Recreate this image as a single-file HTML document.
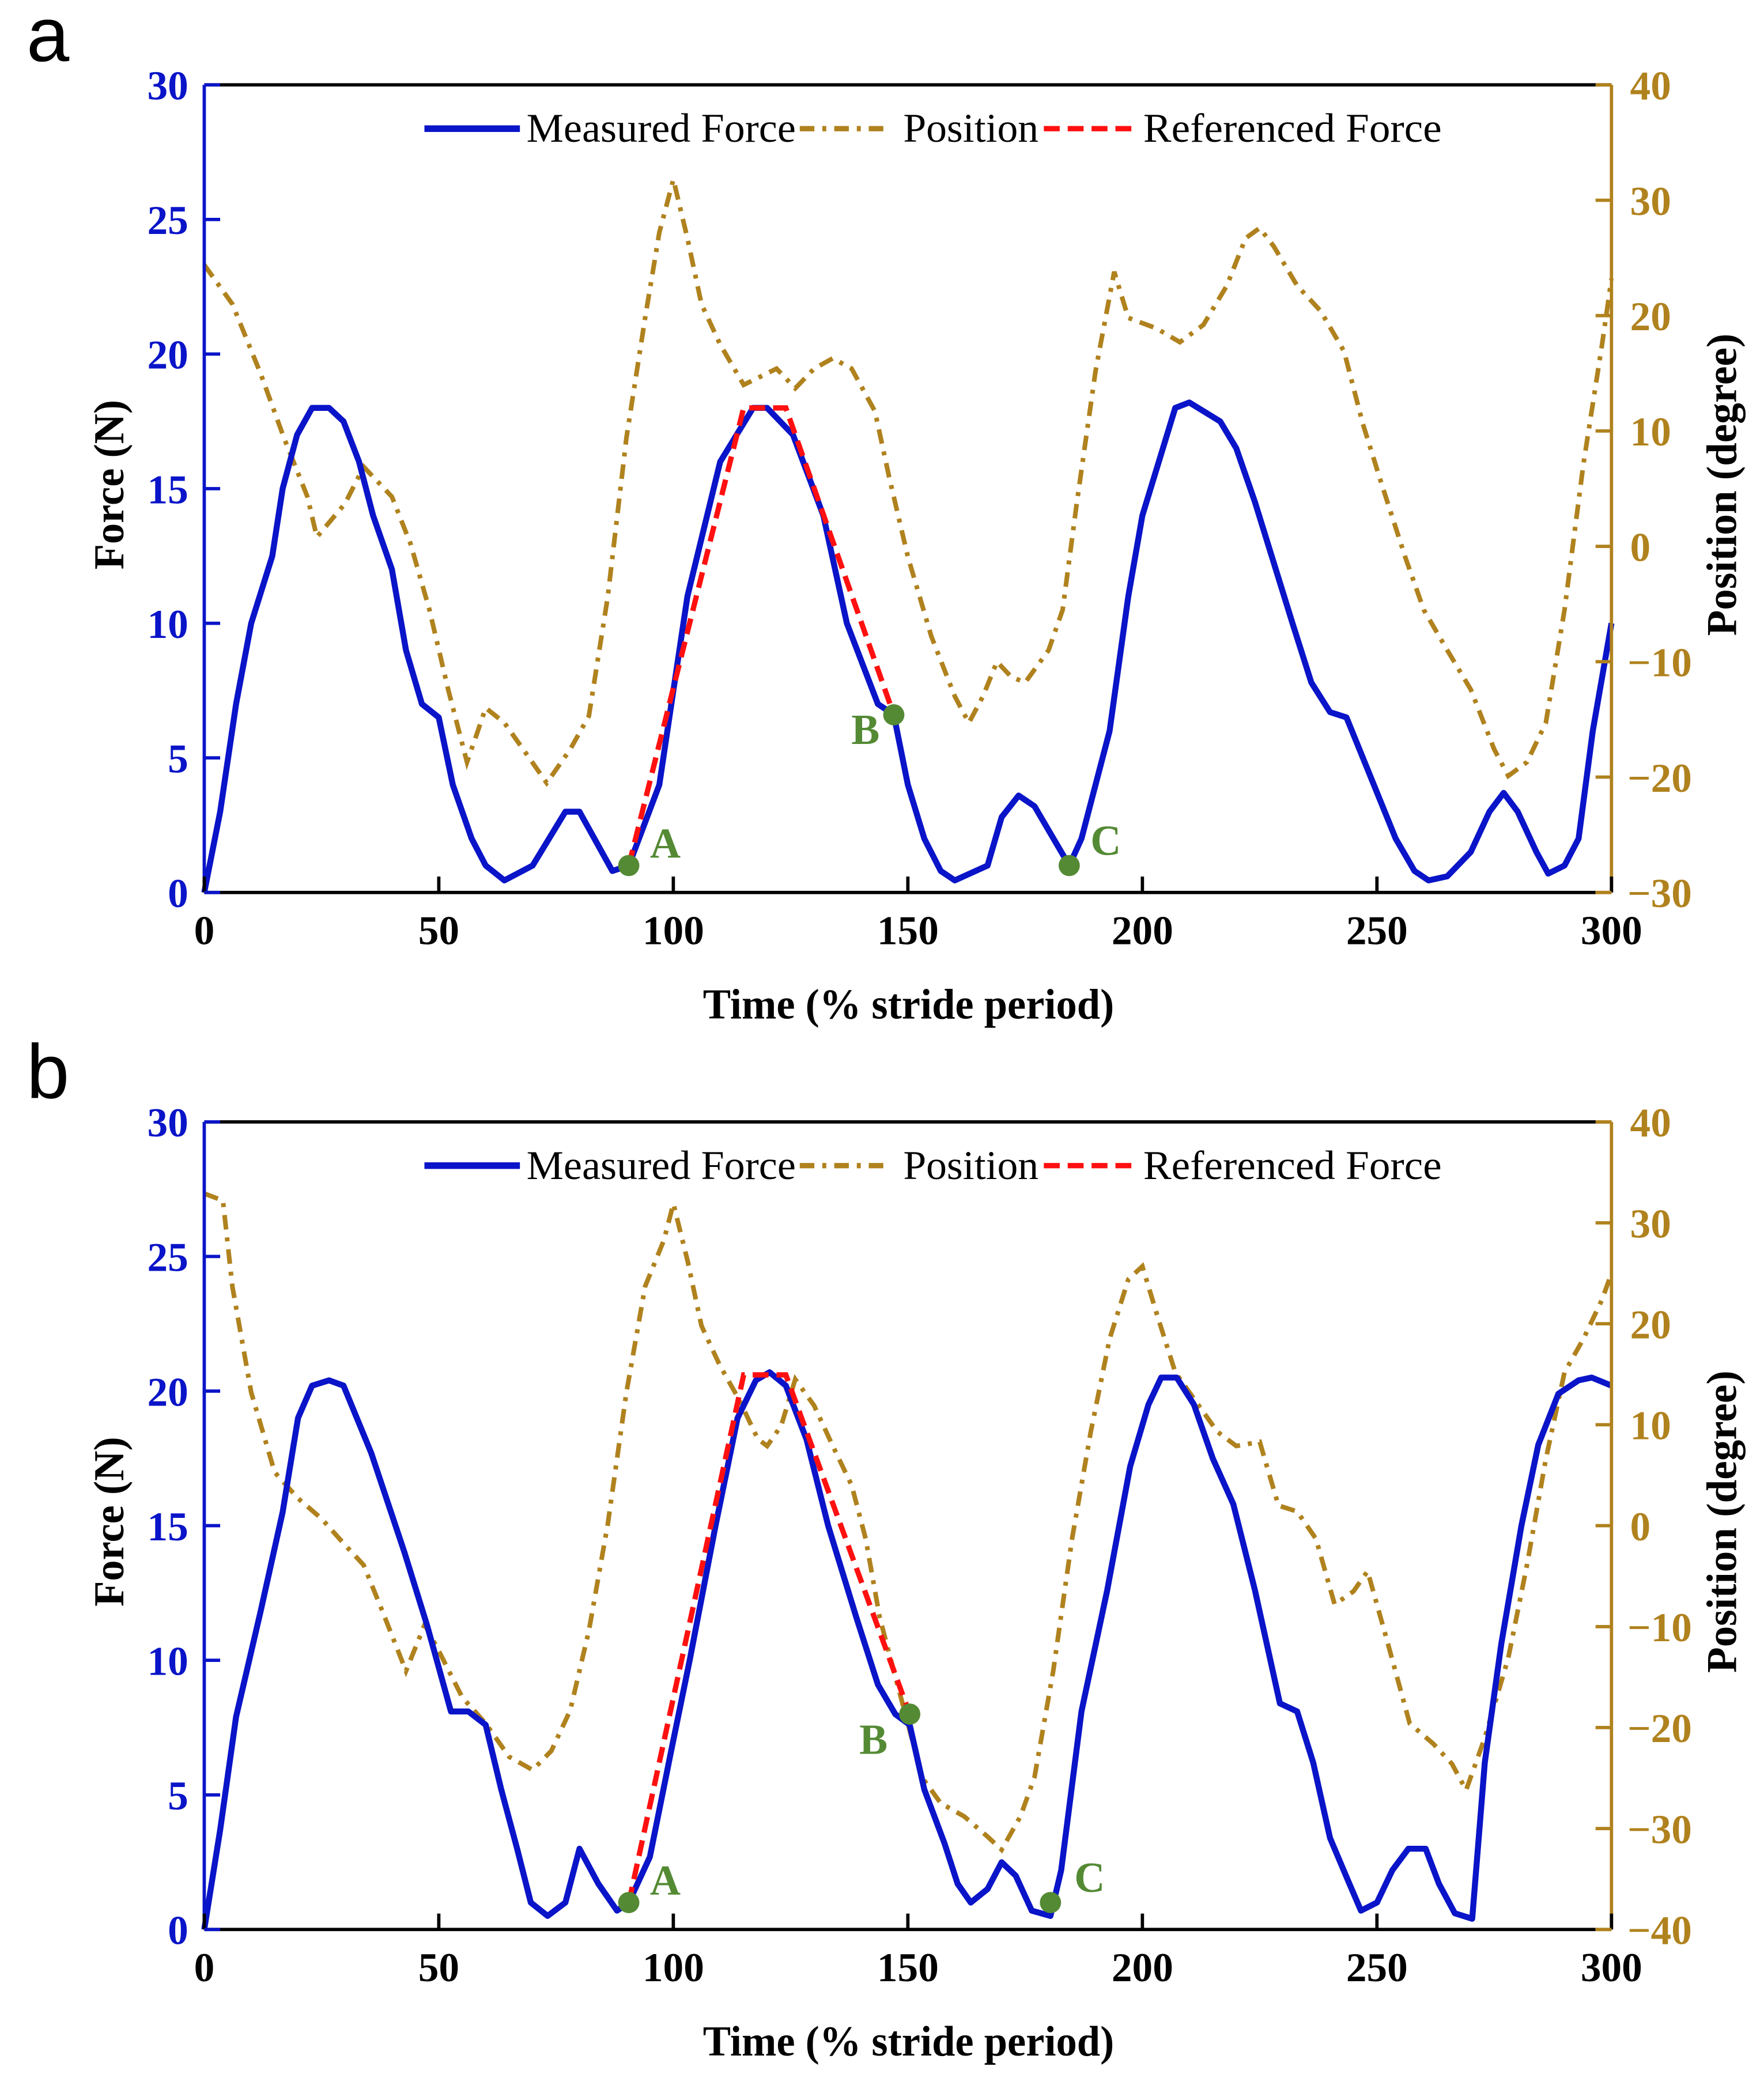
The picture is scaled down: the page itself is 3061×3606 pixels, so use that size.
<!DOCTYPE html>
<html><head><meta charset="utf-8">
<style>html,body{margin:0;padding:0;background:#fff;}svg{display:block;}</style>
</head><body>
<svg id="fig" width="3061" height="3606" viewBox="0 0 1330 1567" preserveAspectRatio="none" xmlns="http://www.w3.org/2000/svg"></svg>
<script>
// ---- Panel a data ----
const forceA_t = [0,3.4,6.8,10,14.5,16.7,19.8,23,26.6,29.7,33,36,40,43,46.4,50,53,57,60,64,70,77,80,87,90.5,97,103,110,117,120,125.5,132,137,143.6,147,150,153.5,157,160,167,170,173.6,177,184.4,187,193,197,200,207,210,216.6,220,224,232,236,240,243.5,247,254,258,261,265,270,274,277,280,284,286.5,290,293,296,300];
const forceA_v = [0,3,7,10,12.5,15,17,18,18,17.5,16,14,12,9,7,6.5,4,2,1,0.45,1,3,3,0.8,1,4,11,16,18,18,17,14,10,7,6.6,4,2,0.8,0.45,1,2.8,3.6,3.2,1,2,6,11,14,18,18.2,17.5,16.5,14.5,10,7.8,6.7,6.5,5,2,0.8,0.45,0.6,1.5,3,3.7,3,1.5,0.7,1,2,6,10];
const posA_t = [0,6,12,17,22,24,30,34,40,44,48,52,56,58,60,64,68,73,78,82,86,90,94,97,100,103,106,110,115,118,122,126,130,134,138,143,146,150,155,160,163,166,169,172,175,180,183,186,190,194,197,203,208,213,218,222,225,228,233,238,243,247,251,256,260,265,270,275,278,282,286,290,294,298,300];
const posA_v = [24.4,21,15,9.4,4.3,0.8,3.7,6.9,4.3,0.2,-5.5,-12.4,-18.7,-16.4,-14,-15.3,-17.6,-20.5,-17.6,-14.7,-4.4,9.4,19.8,27.2,31.8,26.7,21,17.5,14,14.6,15.4,13.7,15.4,16.3,15.4,11.7,6,-0.9,-7.8,-13,-15.3,-13,-10,-11.3,-11.8,-9,-5.5,3.7,15.2,23.8,19.8,18.9,17.7,19.2,22.6,26.7,27.6,26,22.6,20.4,16.9,10.6,5.4,-0.9,-5.5,-9,-12.4,-17.6,-19.9,-18.7,-15.3,-5.5,7.1,17.5,23.2];
const refA_t = [90.5,115,124,147];
const refA_v = [1,18,18,6.6];
const markA_t = [90.5,147,184.4];
const markA_v = [1,6.6,1];
// ---- Panel b data ----
const forceB_t = [0,3.4,6.8,12,16.7,20,23,26.6,29.7,35.6,42.7,47.5,52.6,56.3,60,63.3,66.7,69.6,73.2,77,80,84,88,90.5,95,99.5,103.5,109,113.7,117.6,120.5,124,128.4,133,139,143.6,147.3,150.4,153.5,157.8,160.6,163.4,167,170,173,176.4,180.4,182.7,187,192.5,197.4,201.3,204,207.3,211,215,219.4,224,229.3,233,236.4,240,243.4,246.6,250,253.3,256.7,260.4,263.2,266.6,270.3,273,276.5,280.8,284.4,288.7,293,295.8,300];
const forceB_v = [0,3.7,7.9,11.8,15.5,19,20.2,20.4,20.2,17.7,14,11.3,8.1,8.1,7.6,5.2,3,1,0.5,1,3,1.7,0.7,1,2.7,6.6,10,15,19,20.4,20.7,20.2,18.2,15,11.6,9.1,8,7.6,5.2,3.2,1.7,1,1.5,2.5,2,0.7,0.5,2.2,8.1,12.6,17.2,19.5,20.5,20.5,19.5,17.5,15.8,12.6,8.4,8.1,6.2,3.4,2,0.7,1,2.2,3,3,1.7,0.6,0.4,6.2,10.6,15,18,19.9,20.4,20.5,20.2];
const posB_t = [0,4,6,10,15,20,25,30,34,38,43,47,50,55,60,65,70,74,78,82,86,90,94,98,100,103,106,110,114,118,120,123,126,130,134,138,141,144,147,150,153,157,162,167,170,174,177,181,185,189,193,197,200,203,207,212,216,220,225,229,233,237,241,245,248,252,257,262,266,269,273,278,282,286,290,294,298,300];
const posB_v = [32.9,32.2,23.7,13.2,5.3,2.7,0.7,-1.9,-3.9,-8.5,-14.4,-9.8,-12.4,-17,-19.6,-22.9,-24.2,-22.3,-18.3,-10.4,0.1,13.2,23.7,28.3,31.9,26.3,19.8,15.8,12.5,8.6,7.9,9.9,14.5,11.9,7.9,4,-1.3,-9.1,-14.4,-19.6,-24.9,-27.5,-28.8,-30.8,-32.1,-28.8,-24.9,-14.4,-1.3,9.3,18.5,24.4,25.7,21.1,15.2,11.9,9.3,7.9,8.3,2,1.4,-1.3,-7.8,-6.5,-4.5,-11.1,-19.6,-21.6,-23.6,-26.2,-21,-13.1,-3.9,6.6,15.2,18.5,22.4,25];
const refB_t = [90.5,115,124,150.4];
const refB_v = [1,20.6,20.6,8];
const markB_t = [90.5,150.4,180.4];
const markB_v = [1,8,1];
// ---- ticks ----
const xTicks = [0,50,100,150,200,250,300];
const forceTicks = [0,5,10,15,20,25,30];
const posTicksA = [-30,-20,-10,0,10,20,30,40];
const posTicksB = [-40,-30,-20,-10,0,10,20,30,40];
const markLabels = ["A","B","C"];

const NS="http://www.w3.org/2000/svg";
const svg=document.getElementById('fig');
const BLUE="#0a14c8", BROWN="#b0821e", RED="#ff1010", GREEN="#548a34";
function mk(tag,attrs,parent){const e=document.createElementNS(NS,tag);for(const k in attrs)e.setAttribute(k,attrs[k]);(parent||svg).appendChild(e);return e;}
function txt(s,attrs,parent){const e=mk('text',attrs,parent);e.textContent=s;return e;}

function panel(cfg){
  const L=154,R=1215,T=cfg.top,B=cfg.top+609;
  const g=mk('g',{});
  
  
  const x=t=>L+(t/300)*(R-L);
  const yF=v=>B-(v/30)*(B-T);
  const yP=v=>B-((v-cfg.pmin)/(cfg.pmax-cfg.pmin))*(B-T);
  const pl=txt(cfg.letter,{x:20,y:cfg.top-18,'font-family':'Liberation Sans, sans-serif','font-size':58,fill:'#000'},g);
  
  
  const pts=(ts,vs,fy)=>ts.map((t,i)=>x(t).toFixed(1)+','+fy(vs[i]).toFixed(1)).join(' ');
  const pos=mk('polyline',{points:pts(cfg.pt,cfg.pv,yP),fill:'none',stroke:BROWN,'stroke-width':3.5,'stroke-dasharray':'11 6 3 6'},g);
  
  
  const fl=mk('polyline',{points:pts(cfg.ft,cfg.fv,yF),fill:'none',stroke:BLUE,'stroke-width':4.5,'stroke-linejoin':'round'},g);
  
  
  const rf=mk('polyline',{points:pts(cfg.rt,cfg.rv,yF),fill:'none',stroke:RED,'stroke-width':4,'stroke-dasharray':'12 6'},g);
  
  
  cfg.mt.forEach((t,i)=>{
    const c=mk('circle',{cx:x(t),cy:yF(cfg.mv[i]),r:8,fill:GREEN},g);
    
    
    const off=cfg.labOff[i];
    const lt=txt(markLabels[i],{x:x(t)+off[0],y:yF(cfg.mv[i])+off[1],'font-family':'Liberation Serif, serif','font-weight':'bold','font-size':32,fill:GREEN},g);
    
    
  });
  mk('line',{x1:L,y1:T,x2:R,y2:T,stroke:'#000','stroke-width':2.5},g);
  mk('line',{x1:L,y1:B,x2:R-12,y2:B,stroke:'#000','stroke-width':2.5},g);
  mk('line',{x1:R-12,y1:B,x2:R,y2:B,stroke:BROWN,'stroke-width':2.5},g);
  mk('line',{x1:L,y1:T,x2:L,y2:B,stroke:BLUE,'stroke-width':2.5},g);
  mk('line',{x1:R,y1:T,x2:R,y2:B,stroke:BROWN,'stroke-width':2.5},g);
  xTicks.forEach(t=>{
    mk('line',{x1:x(t),y1:B,x2:x(t),y2:B-12,stroke:'#000','stroke-width':2.5},g);
    const e=txt(String(t),{x:x(t),y:B+39,'text-anchor':'middle','font-family':'Liberation Serif, serif','font-weight':'bold','font-size':31,fill:'#000'},g);
    
    
  });
  forceTicks.forEach(v=>{
    mk('line',{x1:L,y1:yF(v),x2:L+12,y2:yF(v),stroke:BLUE,'stroke-width':2.5},g);
    const e=txt(String(v),{x:142,y:yF(v)+11,'text-anchor':'end','font-family':'Liberation Serif, serif','font-weight':'bold','font-size':31,fill:BLUE},g);
    
    
  });
  cfg.ptk.forEach(v=>{
    mk('line',{x1:R,y1:yP(v),x2:R-12,y2:yP(v),stroke:BROWN,'stroke-width':2.5},g);
    const e=txt((v<0?'\u2212':'')+Math.abs(v),{x:v<0?1227:1229,y:yP(v)+11,'font-family':'Liberation Serif, serif','font-weight':'bold','font-size':31,fill:BROWN},g);
    
    
  });
  const xt=txt('Time (% stride period)',{x:685,y:B+95,'text-anchor':'middle',textLength:310,lengthAdjust:'spacingAndGlyphs','font-family':'Liberation Serif, serif','font-weight':'bold','font-size':32,fill:'#000'},g);
  
  
  const cy=(T+B)/2-3;
  const yt=txt('Force (N)',{x:0,y:0,transform:`translate(93,${cy}) rotate(-90)`,'text-anchor':'middle',textLength:128,lengthAdjust:'spacingAndGlyphs','font-family':'Liberation Serif, serif','font-weight':'bold','font-size':32,fill:'#000'},g);
  
  
  const yt2=txt('Position (degree)',{x:0,y:0,transform:`translate(1309,${cy}) rotate(-90)`,'text-anchor':'middle',textLength:228,lengthAdjust:'spacingAndGlyphs','font-family':'Liberation Serif, serif','font-weight':'bold','font-size':32,fill:'#000'},g);
  
  
  const ly=T+33;
  const lg=mk('g',{},g);
  
  
  mk('line',{x1:320,y1:ly,x2:392,y2:ly,stroke:BLUE,'stroke-width':5},lg);
  const t1=txt('Measured Force',{x:397,y:ly+10,textLength:203,lengthAdjust:'spacingAndGlyphs','font-family':'Liberation Serif, serif','font-size':31,fill:'#000'},lg);
  
  
  mk('line',{x1:603,y1:ly,x2:668,y2:ly,stroke:BROWN,'stroke-width':4,'stroke-dasharray':'11 6 3 6'},lg);
  const t2=txt('Position',{x:681,y:ly+10,textLength:102,lengthAdjust:'spacingAndGlyphs','font-family':'Liberation Serif, serif','font-size':31,fill:'#000'},lg);
  
  
  mk('line',{x1:787,y1:ly,x2:858,y2:ly,stroke:RED,'stroke-width':4,'stroke-dasharray':'12 6'},lg);
  const t3=txt('Referenced Force',{x:862,y:ly+10,textLength:225,lengthAdjust:'spacingAndGlyphs','font-family':'Liberation Serif, serif','font-size':31,fill:'#000'},lg);
  
  
}
panel({name:'panel-a',letter:'a',top:64,pmin:-30,pmax:40,ptk:posTicksA,ft:forceA_t,fv:forceA_v,pt:posA_t,pv:posA_v,rt:refA_t,rv:refA_v,mt:markA_t,mv:markA_v,labOff:[[16,-6],[-32,22],[16,-8]]});
panel({name:'panel-b',letter:'b',top:846,pmin:-40,pmax:40,ptk:posTicksB,ft:forceB_t,fv:forceB_v,pt:posB_t,pv:posB_v,rt:refB_t,rv:refB_v,mt:markB_t,mv:markB_v,labOff:[[16,-6],[-38,30],[18,-8]]});
</script>
</body></html>
